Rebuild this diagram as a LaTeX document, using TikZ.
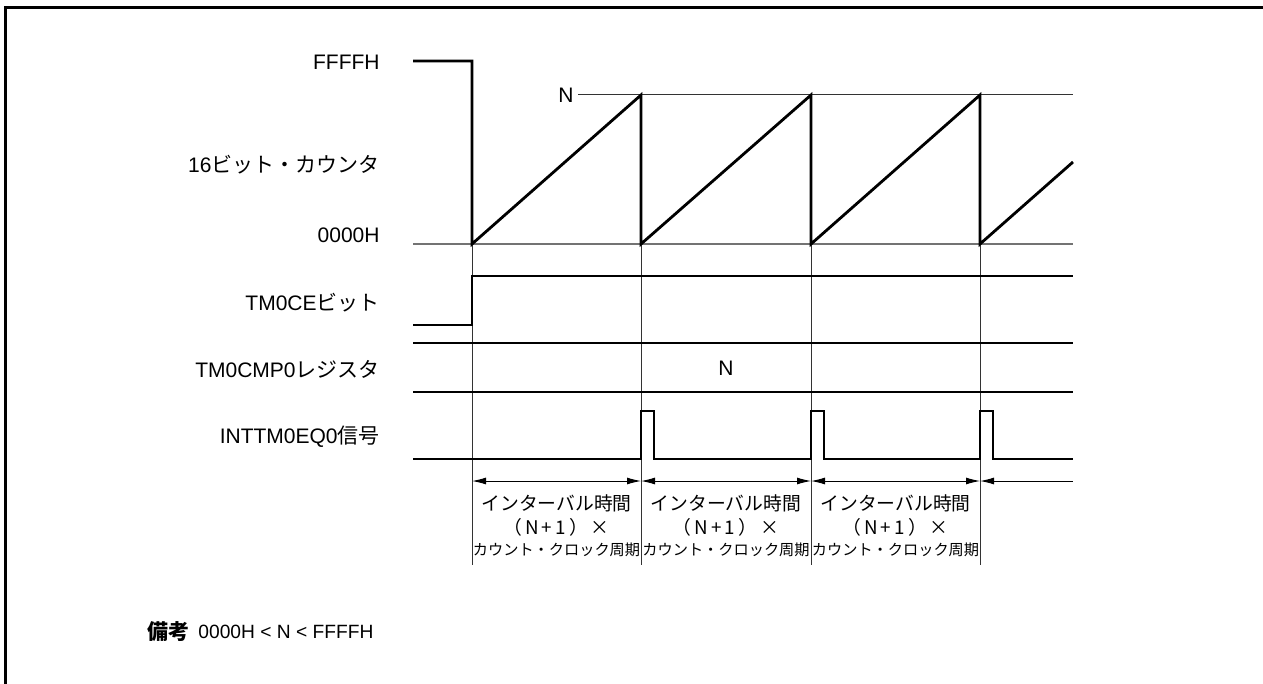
\documentclass[tikz,border=0pt]{standalone}
\usepackage{fontspec}
\setmainfont{Liberation Sans}
\newfontfamily\cjk{Noto Sans CJK JP}
\usetikzlibrary{arrows.meta}
\tikzset{
  sig/.style={line width=1.4pt, line join=miter},
  guide/.style={line width=0.5pt, black!80},
  zero/.style={line width=1pt, black!55},
  lab/.style={anchor=east, inner sep=0pt, font=\fontsize{10.5pt}{12pt}\selectfont},
  ivl/.style={inner sep=0pt, font=\fontsize{9.4pt}{11pt}\selectfont\cjk},
  ivs/.style={inner sep=0pt, font=\fontsize{7.6pt}{9pt}\selectfont\cjk},
  dim/.style={line width=0.5pt, {Latex[length=7pt,width=3.5pt]}-{Latex[length=7pt,width=3.5pt]}},
}
\begin{document}
\begin{tikzpicture}[x=0.5pt,y=-0.5pt]
\useasboundingbox (0,0) rectangle (1263,684);
% frame (top and left edges)
\draw[line width=1.5pt] (5,684) -- (5,8) -- (1263,8);
% labels
\node[lab] (lffff) at (380,62) {FFFFH};
\node[lab] (lcnt) at (380,165) {16{\cjk ビット・カウンタ}};
\node[lab] (l0000) at (380,235) {0000H};
\node[lab] (lce) at (380,303) {TM0CE{\cjk ビット}};
\node[lab] (lcmp) at (380,369) {TM0CMP0{\cjk レジスタ}};
\node[lab] (lint) at (380,437) {INTTM0EQ0{\cjk 信号}};
% N level line
\node[lab] (nlab) at (574,95) {N};
\coordinate (nend) at (1073,95);
\draw[guide] (nlab.east) ++(4,0) -- (nend);
% zero line
\draw[zero] (413,244) -- (1073,244);
% guides
\foreach \x in {472,641,811,980}
  \draw[guide] (\x,244) -- (\x,565);
% counter
\draw[sig] (413,61) -- (472,61) -- (472,244) -- (641,95) -- (641,244) -- (811,95) -- (811,244) -- (980,95) -- (980,244) -- (1073,162);
% TM0CE bit
\draw[sig] (413,325) -- (472,325) -- (472,276) -- (1073,276);
% TM0CMP0
\draw[sig] (413,343) -- (1073,343);
\draw[sig] (413,392) -- (1073,392);
\node[inner sep=0pt, font=\fontsize{10.5pt}{12pt}\selectfont] (cmpn) at (726,368) {N};
% INTTM0EQ0
\draw[sig] (413,459) -- (641,459) -- (641,411) -- (654,411) -- (654,459)
  -- (811,459) -- (811,411) -- (824,411) -- (824,459)
  -- (980,459) -- (980,411) -- (993,411) -- (993,459) -- (1073,459);
% interval arrows
\coordinate (a0) at (472,481);
\coordinate (a1) at (641,481);
\coordinate (a2) at (811,481);
\coordinate (a3) at (980,481);
\coordinate (a4) at (1073,481);
\draw[dim] (a0) -- (a1);
\draw[dim] (a1) -- (a2);
\draw[dim] (a2) -- (a3);
\draw[line width=0.5pt, {Latex[length=7pt,width=3.5pt]}-] (a3) -- (a4);
% interval texts
\foreach \i/\c in {1/556.5,2/726,3/895.5}{
  \node[ivl] (it\i) at (\c,503) {インターバル時間};
  \node[ivl] (in\i) at (\c,527) {（\,N\,+\,1\,）\,×};
  \node[ivs] (ic\i) at (\c,550) {カウント・クロック周期};
}
% note
\node[inner sep=0pt, anchor=west, font=\fontsize{10.5pt}{12pt}\selectfont\cjk\bfseries] (bik) at (147,632) {備考};
\node[inner sep=0pt, anchor=west, font=\fontsize{9.6pt}{12pt}\selectfont] (rng) at (198,632) {0000H < N < FFFFH};
\end{tikzpicture}
\end{document}
